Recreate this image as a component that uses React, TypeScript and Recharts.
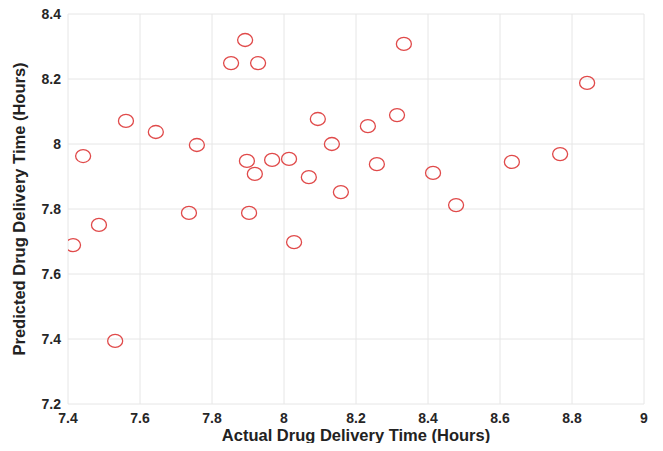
import React from 'react';
import { ScatterChart, Scatter, XAxis, YAxis, CartesianGrid } from 'recharts';

const actualHours = [
  7.414, 7.442, 7.486, 7.531, 7.561, 7.644, 7.758, 7.736, 7.853, 7.892,
  7.928, 7.897, 7.903, 7.919, 7.967, 8.014, 8.028, 8.069, 8.094, 8.133,
  8.158, 8.233, 8.258, 8.314, 8.333, 8.414, 8.478, 8.633, 8.767, 8.842,
];
const predictedHours = [
  7.689, 7.963, 7.751, 7.394, 8.071, 8.037, 7.997, 7.788, 8.249, 8.32,
  8.249, 7.948, 7.788, 7.908, 7.951, 7.954, 7.698, 7.898, 8.077, 8.0,
  7.852, 8.055, 7.938, 8.089, 8.308, 7.911, 7.812, 7.945, 7.969, 8.188,
];
const xTicks = [7.4, 7.6, 7.8, 8, 8.2, 8.4, 8.6, 8.8, 9];
const yTicks = [7.2, 7.4, 7.6, 7.8, 8, 8.2, 8.4];

const points = actualHours.map((x, i) => ({ x, y: predictedHours[i] }));

const RED = '#e04a4a';
const BOX = '#8a8a8a';
const tickStyle = { fontFamily: '"Liberation Sans", Arial, sans-serif', fontSize: 14, fontWeight: 700, fill: '#262626' };
const labelStyle = { fontFamily: '"Liberation Sans", Arial, sans-serif', fontSize: 16.5, fontWeight: 700, fill: '#222', textAnchor: 'middle' as const };

const Ring = (props: any) => (
  <ellipse cx={props.cx} cy={props.cy} rx={7.5} ry={6.5} fill="none" stroke={RED} strokeWidth={1.3} />
);

// MATLAB-style inward tick marks on all four sides
const innerTicks = { tick: false as const, mirror: true, tickSize: 5, tickLine: { stroke: BOX }, axisLine: { stroke: BOX } };

export default function App() {
  return (
    <div style={{ margin: -8, position: 'relative', width: 663, height: 451, overflow: 'hidden', background: '#fff' }}>
      <svg width={663} height={20} style={{ position: 'absolute', left: 0, top: 0 }}>
        <text x={200} y={2} fontFamily='"Liberation Serif", serif' fontWeight={700} fontSize={18} fill="#111">
          Drug Modeling Results
        </text>
      </svg>
      <ScatterChart width={663} height={451} margin={{ top: 14, right: 19, left: 8, bottom: 0 }}>
        <CartesianGrid stroke="#e6e6e6" />
        <XAxis xAxisId="innerBottom" type="number" domain={[7.4, 9]} ticks={xTicks} height={0} {...innerTicks} />
        <XAxis
          type="number"
          dataKey="x"
          domain={[7.4, 9]}
          ticks={xTicks}
          allowDataOverflow
          height={47}
          tickLine={false}
          tickSize={6}
          tickMargin={3}
          tick={tickStyle}
          axisLine={false}
          label={{ value: 'Actual Drug Delivery Time (Hours)', position: 'insideBottom', offset: 10, style: labelStyle }}
        />
        <XAxis xAxisId="top" orientation="top" type="number" domain={[7.4, 9]} ticks={xTicks} height={0} {...innerTicks} />
        <YAxis yAxisId="innerLeft" type="number" domain={[7.2, 8.4]} ticks={yTicks} width={0} {...innerTicks} />
        <YAxis
          type="number"
          dataKey="y"
          domain={[7.2, 8.4]}
          ticks={yTicks}
          allowDataOverflow
          width={60}
          tickLine={false}
          tickSize={3}
          tickMargin={4}
          tick={tickStyle}
          axisLine={false}
          label={{ value: 'Predicted Drug Delivery Time (Hours)', angle: -90, position: 'insideLeft', offset: 11, style: labelStyle }}
        />
        <YAxis yAxisId="right" orientation="right" type="number" domain={[7.2, 8.4]} ticks={yTicks} width={0} {...innerTicks} />
        <Scatter data={points} shape={Ring} isAnimationActive={false} />
      </ScatterChart>
    </div>
  );
}
